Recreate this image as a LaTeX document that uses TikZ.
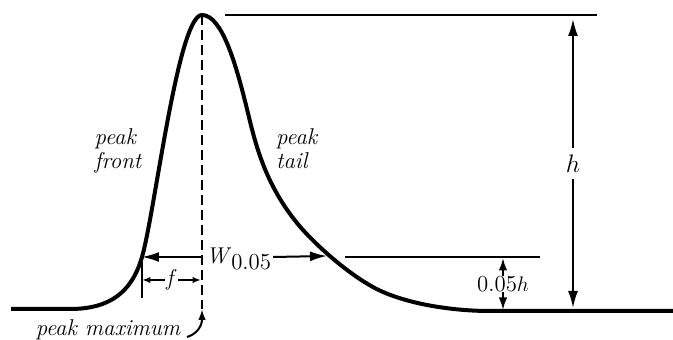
\documentclass[tikz,border=0pt]{standalone}
\usetikzlibrary{arrows.meta}

\begin{document}
\begin{tikzpicture}[
  x=0.02cm, y=-0.02cm,
  font=\fontsize{13}{13.5}\selectfont,
  peakline/.style={line width=0.08cm, line join=round},
  guide/.style={line width=0.04cm},
  bigdim/.style={guide, >={Latex[length=0.34cm,width=0.2cm]}},
  middim/.style={guide, >={Latex[length=0.25cm,width=0.17cm]}},
  smalldim/.style={guide, >={Latex[length=0.17cm,width=0.13cm]}},
  lbl/.style={font=\fontsize{13}{13.5}\selectfont\itshape, align=left, inner sep=1pt},
  gaplbl/.style={fill=white, inner xsep=1pt, inner ysep=2pt}
]
\useasboundingbox (0,0) rectangle (673,340);

%% Key points of the peak
\coordinate (apex) at (202,15);
\coordinate (foot) at (202,309);
\coordinate (frontcut) at (142,257);
\coordinate (tailcut) at (327,256);
\coordinate (topend) at (597,15);
\coordinate (cutstart) at (345,257);
\coordinate (cutend) at (540,257);

%% Baseline and chromatographic peak
\draw[peakline] (11,309) -- (70,309)
  .. controls (110,309) and (132,292) .. (frontcut)
  .. controls (155,212) and (178,15) .. (apex)
  .. controls (222,15) and (236,65) .. (246,105)
  .. controls (254,137) and (262,180) .. (297,223)
  .. controls (314,244) and (353,279) .. (383,292)
  .. controls (413,305) and (455,311) .. (490,311)
  -- (673,311);

%% Peak maximum line
\draw[guide, dash pattern=on 0.2cm off 0.1cm] (apex) -- (foot);

%% Height h
\draw[guide] (225,15) -- (topend);
\draw[bigdim, <->] (573,19) -- node[gaplbl, inner ysep=4pt, font=\fontsize{15}{16}\selectfont] (hlbl) {$h$} (573,308);

%% 5% height level
\draw[guide] (cutstart) -- (cutend);
\draw[middim, <->] (503,258) -- node[gaplbl, inner ysep=0pt] (cutlbl) {0.05$h$} (503,310);

%% Width at 5% height
\node[anchor=west, inner sep=1pt] (wlbl) at (204,259) {\textit{W}\raisebox{-0.55ex}{0.05}};
\draw[bigdim, ->] (apex |- frontcut) -- (frontcut);
\draw[bigdim, ->] (wlbl.east |- frontcut) -- (tailcut);

%% Front half-width f
\draw[guide] (142,262) -- (142,298);
\draw[smalldim, <->] (142,280) -- node[gaplbl, inner ysep=0pt] (flbl) {\textit{f}} (201,280);

%% Labels
\node[lbl] (front) at (118,151) {peak\\front};
\node[lbl, anchor=west] (tail) at (274,149) {peak\\tail};
\node[lbl, anchor=base] (pmax) at (108,336) {peak maximum};
\coordinate (pmtail) at (187,337);
\draw[guide, -{Latex[length=0.22cm,width=0.15cm]}]
  (pmtail) .. controls (197,334) and (202,326) .. (foot);

\end{tikzpicture}
\end{document}
